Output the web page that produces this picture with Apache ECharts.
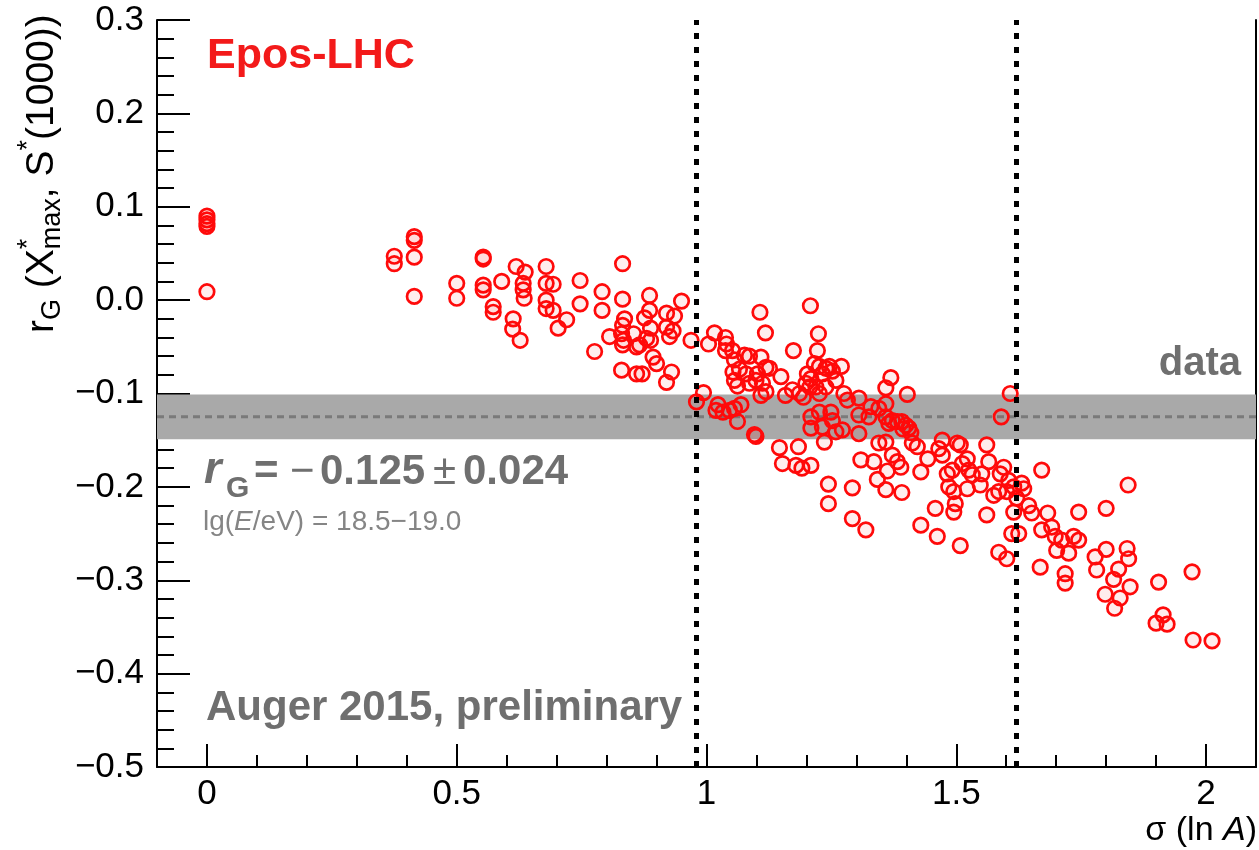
<!DOCTYPE html>
<html><head><meta charset="utf-8">
<script src="https://cdn.jsdelivr.net/npm/echarts@6/dist/echarts.min.js"></script>
<style>html,body{margin:0;padding:0;background:#fff}#c{width:1259px;height:850px}</style>
</head><body><div id="c"></div>
<script>
// ---------- data ----------
const xMajorTicks = [0, 0.5, 1, 1.5, 2];
const yMajorTicks = [-0.5, -0.4, -0.3, -0.2, -0.1, 0, 0.1, 0.2, 0.3];
const xRange = [-0.1, 2.1];
const rGData = -0.125;
const rGErr = 0.024;
const sigmaBounds = [0.98, 1.62];

// [sigma(lnA), r_G] pairs
const ptsPure = [[0,0.090],[0,0.086],[0,0.082],[0,0.079],[0,0.009]];
const ptsLow = [[0.375,0.047],[0.375,0.039],[0.415,0.068],[0.415,0.064],[0.415,0.046],[0.415,0.004]];
const ptsMid = [[0.500,0.018],[0.500,0.002],[0.553,0.046],[0.553,0.044],[0.553,0.016],[0.553,0.011],[0.573,-0.007],[0.573,-0.013],[0.590,0.020],[0.619,0.036],[0.637,0.030],[0.633,0.018],[0.633,0.011],[0.635,0.002],[0.613,-0.020],[0.612,-0.031],[0.627,-0.043],[0.679,0.036],[0.679,0.018],[0.693,0.017],[0.679,0.000],[0.679,-0.009],[0.693,-0.011],[0.703,-0.030],[0.720,-0.021],[0.747,0.021],[0.747,-0.004],[0.791,0.009],[0.791,-0.011],[0.832,0.039],[0.832,0.001],[0.776,-0.055],[0.806,-0.039],[0.836,-0.020],[0.832,-0.027],[0.830,-0.036],[0.834,-0.043],[0.832,-0.048],[0.830,-0.075],[0.886,0.005],[0.886,-0.011],[0.876,-0.019],[0.888,-0.030],[0.880,-0.041],[0.888,-0.043],[0.854,-0.036],[0.860,-0.050],[0.866,-0.048],[0.860,-0.079],[0.871,-0.079],[0.893,-0.061],[0.900,-0.068],[0.920,-0.014],[0.936,-0.017],[0.920,-0.029],[0.926,-0.039],[0.933,-0.033],[0.930,-0.077],[0.920,-0.088],[0.950,-0.001],[0.969,-0.043]];
const ptsHigh = [[0.994,-0.099],[0.980,-0.109],[1.016,-0.035],[1.004,-0.047],[1.038,-0.040],[1.040,-0.047],[1.038,-0.054],[1.052,-0.054],[1.056,-0.064],[1.076,-0.059],[1.086,-0.060],[1.109,-0.061],[1.119,-0.072],[1.102,-0.079],[1.079,-0.079],[1.066,-0.074],[1.053,-0.077],[1.056,-0.086],[1.062,-0.092],[1.086,-0.089],[1.099,-0.086],[1.112,-0.089],[1.126,-0.073],[1.109,-0.102],[1.119,-0.098],[1.107,-0.013],[1.118,-0.035],[1.208,-0.006],[1.224,-0.036],[1.174,-0.054],[1.023,-0.112],[1.019,-0.118],[1.033,-0.120],[1.046,-0.118],[1.056,-0.116],[1.069,-0.112],[1.062,-0.130],[1.096,-0.144],[1.099,-0.146],[1.149,-0.082],[1.158,-0.102],[1.172,-0.096],[1.186,-0.100],[1.194,-0.104],[1.202,-0.079],[1.209,-0.084],[1.199,-0.089],[1.207,-0.093],[1.216,-0.068],[1.222,-0.054],[1.226,-0.071],[1.232,-0.079],[1.239,-0.073],[1.246,-0.071],[1.252,-0.076],[1.259,-0.086],[1.219,-0.093],[1.226,-0.100],[1.239,-0.093],[1.270,-0.071],[1.209,-0.125],[1.209,-0.137],[1.226,-0.120],[1.232,-0.136],[1.249,-0.120],[1.252,-0.129],[1.259,-0.141],[1.272,-0.139],[1.275,-0.100],[1.282,-0.107],[1.236,-0.152],[1.146,-0.158],[1.184,-0.157],[1.152,-0.175],[1.179,-0.177],[1.191,-0.180],[1.209,-0.177],[1.244,-0.197],[1.244,-0.218],[1.292,-0.201],[1.292,-0.234],[1.319,-0.246],[1.309,-0.171],[1.335,-0.173],[1.342,-0.192],[1.359,-0.203],[1.362,-0.183],[1.372,-0.166],[1.382,-0.173],[1.389,-0.179],[1.391,-0.206],[1.345,-0.153],[1.359,-0.152],[1.412,-0.153],[1.429,-0.184],[1.429,-0.241],[1.305,-0.105],[1.305,-0.123],[1.329,-0.114],[1.325,-0.125],[1.305,-0.143],[1.345,-0.116],[1.359,-0.111],[1.359,-0.125],[1.365,-0.132],[1.372,-0.129],[1.382,-0.130],[1.391,-0.130],[1.399,-0.134],[1.393,-0.138],[1.405,-0.137],[1.409,-0.142],[1.369,-0.083],[1.359,-0.094],[1.402,-0.101],[1.422,-0.157],[1.443,-0.170]];
const ptsVeryHigh = [[1.465,-0.159],[1.472,-0.150],[1.472,-0.166],[1.482,-0.186],[1.485,-0.200],[1.492,-0.182],[1.495,-0.205],[1.498,-0.218],[1.495,-0.227],[1.502,-0.153],[1.508,-0.155],[1.512,-0.175],[1.522,-0.170],[1.525,-0.182],[1.522,-0.202],[1.532,-0.187],[1.551,-0.186],[1.548,-0.198],[1.561,-0.155],[1.565,-0.173],[1.575,-0.209],[1.585,-0.205],[1.588,-0.186],[1.595,-0.179],[1.601,-0.205],[1.605,-0.193],[1.615,-0.200],[1.621,-0.212],[1.631,-0.196],[1.635,-0.202],[1.458,-0.223],[1.462,-0.253],[1.508,-0.263],[1.561,-0.230],[1.585,-0.270],[1.601,-0.277],[1.611,-0.250],[1.625,-0.250],[1.615,-0.227],[1.645,-0.220],[1.651,-0.228],[1.671,-0.182],[1.671,-0.246],[1.683,-0.228],[1.691,-0.243],[1.668,-0.286],[1.718,-0.293],[1.718,-0.303],[1.698,-0.253],[1.711,-0.257],[1.701,-0.268],[1.725,-0.271],[1.735,-0.253],[1.745,-0.257],[1.745,-0.227],[1.778,-0.275],[1.781,-0.289],[1.608,-0.100],[1.590,-0.125]];
const ptsTail = [[1.844,-0.198],[1.800,-0.223],[1.800,-0.267],[1.842,-0.266],[1.845,-0.277],[1.825,-0.288],[1.815,-0.299],[1.848,-0.307],[1.798,-0.315],[1.828,-0.319],[1.817,-0.330],[1.905,-0.302],[1.972,-0.291],[1.914,-0.337],[1.900,-0.346],[1.922,-0.347],[1.974,-0.364],[2.012,-0.365]];

const points = [].concat(ptsPure, ptsLow, ptsMid, ptsHigh, ptsVeryHigh, ptsTail);

// ---------- rendering ----------
const FONT = '"Liberation Sans", Arial, Helvetica, sans-serif';
const GREY = '#6f6f6f';
const isMult = (v, s) => Math.abs(v / s - Math.round(v / s)) < 1e-6;
const fmtY = v => { const r = Math.round(v * 10) / 10; return (r < 0 ? '\u2212' : '') + Math.abs(r).toFixed(1); };
const fmtX = v => String(Math.round(v * 10) / 10);

const mctx = document.createElement('canvas').getContext('2d');
function tw(t, font) { mctx.font = font; return mctx.measureText(t).width; }

// rotated y-axis title built from pieces
function yTitle() {
  const f = 39, s = 27;
  const main = f + 'px ' + FONT, small = s + 'px ' + FONT;
  const children = [];
  let lx = 0;
  const put = (t, font, size, dy) => {
    children.push({ type: 'text', x: lx, y: dy - 0.31 * size,
      style: { text: t, font: font, fill: '#000', align: 'left', verticalAlign: 'middle', textAlign: 'left', textVerticalAlign: 'middle' } });
    return tw(t, font);
  };
  lx += put('r', main, f, 0);
  lx += put('G', small, s, 7);
  lx += put(' (', main, f, 0);
  lx += put('X', main, f, 0);
  const w1 = put('*', small, s, -17);
  const w2 = put('max', small, s, 7);
  lx += Math.max(w1, w2);
  lx += put(', ', main, f, 0);
  lx += put('S', main, f, 0);
  lx += put('*', small, s, -17);
  lx += put('(1000))', main, f, 0);
  return { type: 'group', x: 54, y: 333, rotation: Math.PI / 2, children: children, silent: true };
}

function txt(x, y, text, font, fill, align) {
  return { type: 'text', x: x, y: y, silent: true, z: 100,
    style: { text: text, font: font, fill: fill, align: align || 'left', verticalAlign: 'middle',
             textAlign: align || 'left', textVerticalAlign: 'middle' } };
}

const chart = echarts.init(document.getElementById('c'), null, { renderer: 'canvas' });
const tickStyle = { color: '#000', width: 2 };
const option = {
  animation: false,
  backgroundColor: '#fff',
  grid: { left: 157, right: 2, top: 20, bottom: 83, containLabel: false },
  xAxis: [
    { type: 'value', min: xRange[0], max: xRange[1], interval: 0.1, position: 'bottom',
      axisLine: { show: true, onZero: false, lineStyle: { color: '#000', width: 2 } },
      axisTick: { show: true, inside: true, length: 12, lineStyle: tickStyle },
      axisLabel: { show: true, margin: 10, color: '#000', fontFamily: FONT, fontSize: 35,
                   formatter: v => (isMult(v, 0.5) ? fmtX(v) : '') },
      splitLine: { show: false } },
    { type: 'value', min: xRange[0], max: xRange[1], position: 'bottom', offset: 0,
      axisLine: { show: false, onZero: false },
      axisTick: { show: true, inside: true, length: 23, customValues: xMajorTicks, lineStyle: tickStyle },
      axisLabel: { show: false }, splitLine: { show: false } }
  ],
  yAxis: [
    { type: 'value', min: -0.5, max: 0.3, interval: 0.02, position: 'left',
      axisLine: { show: true, onZero: false, lineStyle: { color: '#000', width: 2 } },
      axisTick: { show: true, inside: true, length: 17, lineStyle: tickStyle },
      axisLabel: { show: true, margin: 13, color: '#000', fontFamily: FONT, fontSize: 35,
                   formatter: v => (isMult(v, 0.1) ? fmtY(v) : '') },
      splitLine: { show: false } },
    { type: 'value', min: -0.5, max: 0.3, position: 'left', offset: 0,
      axisLine: { show: false, onZero: false },
      axisTick: { show: true, inside: true, length: 33, customValues: yMajorTicks, lineStyle: tickStyle },
      axisLabel: { show: false }, splitLine: { show: false } },
    { type: 'value', min: -0.5, max: 0.3, position: 'right', offset: 0,
      axisLine: { show: true, onZero: false, lineStyle: { color: '#000', width: 2 } },
      axisTick: { show: false }, axisLabel: { show: false }, splitLine: { show: false } }
  ],
  series: [
    { type: 'scatter', name: 'band', data: [], z: 1, silent: true,
      markArea: { silent: true, itemStyle: { color: '#a9a9a9' },
        data: [[{ yAxis: rGData - rGErr }, { yAxis: rGData + rGErr }]] } },
    { type: 'line', name: 'dataLine', z: 1, silent: true, symbol: 'none',
      data: [[xRange[0], rGData], [xRange[1], rGData]],
      lineStyle: { color: '#7a7a7a', width: 3, type: [7, 5] } },
    { type: 'scatter', name: 'Epos-LHC', data: points, z: 2, symbol: 'circle', symbolSize: 14.5,
      itemStyle: { color: 'rgba(255,0,0,0.07)', borderColor: '#ff0a0a', borderWidth: 2.7, opacity: 1 } },
    { type: 'scatter', name: 'bounds', data: [], z: 3, silent: true,
      markLine: { silent: true, symbol: ['none', 'none'], label: { show: false },
        lineStyle: { color: '#000', width: 5, type: [6, 8] },
        data: sigmaBounds.map(v => ({ xAxis: v })) } }
  ],
  graphic: [
    yTitle(),
    txt(207, 56, 'Epos-LHC', 'bold 43px ' + FONT, '#f31a1a'),
    txt(1241, 364, 'data', 'bold 40px ' + FONT, GREY, 'right'),
    txt(204, 471, 'r', 'italic bold 45px ' + FONT, GREY),
    txt(226, 489, 'G', 'bold 30px ' + FONT, GREY),
    txt(254, 472, '=', 'bold 42px ' + FONT, GREY),
    txt(290, 472, '\u2212', '42px ' + FONT, GREY),
    txt(320, 472, '0.125', 'bold 42px ' + FONT, GREY),
    txt(433, 472, '\u00b1', '42px ' + FONT, GREY),
    txt(463, 472, '0.024', 'bold 42px ' + FONT, GREY),
    { type: 'text', x: 203, y: 522, silent: true, z: 100,
      style: { text: '{n|lg(}{i|E}{n|/eV) = 18.5\u221219.0}', verticalAlign: 'middle', textVerticalAlign: 'middle',
        rich: { n: { font: '28px ' + FONT, fill: '#858585', color: '#858585' },
                i: { font: 'italic 28px ' + FONT, fill: '#858585', color: '#858585' } } } },
    txt(206, 708, 'Auger 2015, preliminary', 'bold 42px ' + FONT, GREY),
    { type: 'text', x: 1257, y: 831, silent: true, z: 100,
      style: { text: '{n|\u03c3 (ln }{i|A}{n|)}', align: 'right', textAlign: 'right', verticalAlign: 'middle', textVerticalAlign: 'middle',
        rich: { n: { font: '34px ' + FONT, fill: '#000', color: '#000' },
                i: { font: 'italic 34px ' + FONT, fill: '#000', color: '#000' } } } }
  ]
};
chart.setOption(option);
</script>
</body></html>
